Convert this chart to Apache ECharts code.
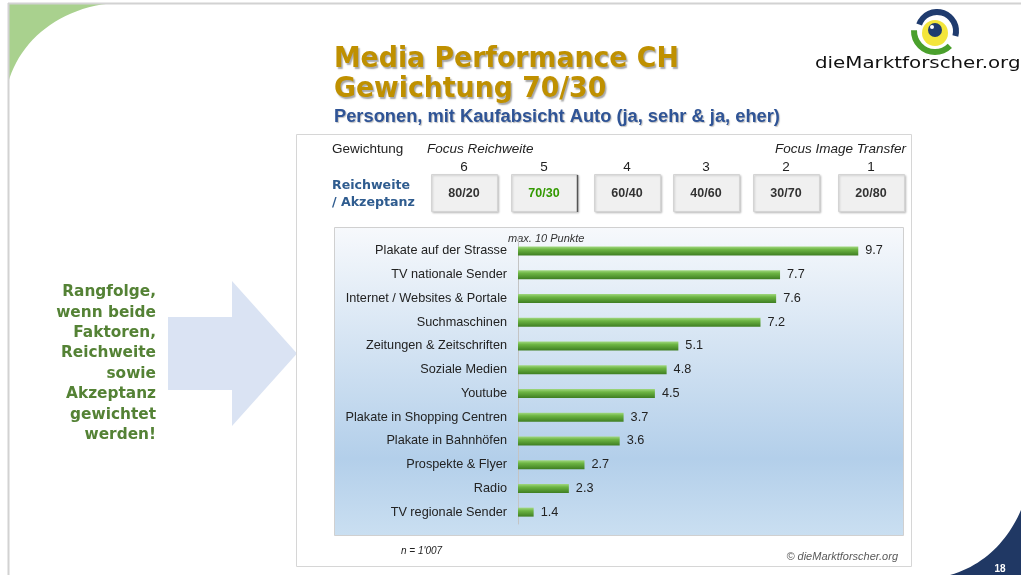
<!DOCTYPE html>
<html lang="de" style="height: 100%">
<head>
  <meta charset="utf-8">
</head>
<body style="height: 100%; margin: 0; background: #fff">
  <div id="container" style="width: 1021px; height: 575px"></div>

  <script type="text/javascript" src="https://fastly.jsdelivr.net/npm/echarts@6/dist/echarts.min.js"></script>
  <script type="text/javascript">
    // Rangfolge der Medien, Gewichtung Reichweite / Akzeptanz 70/30 (max. 10 Punkte)
    var categories = [
      'Plakate auf der Strasse',
      'TV nationale Sender',
      'Internet / Websites & Portale',
      'Suchmaschinen',
      'Zeitungen & Zeitschriften',
      'Soziale Medien',
      'Youtube',
      'Plakate in Shopping Centren',
      'Plakate in Bahnhöfen',
      'Prospekte & Flyer',
      'Radio',
      'TV regionale Sender'
    ];
    var scores = [9.7, 7.7, 7.6, 7.2, 5.1, 4.8, 4.5, 3.7, 3.6, 2.7, 2.3, 1.4];

    // Gewichtungs-Schalter im Kopf
    var weightNumbers = [6, 5, 4, 3, 2, 1];
    var weightLabels = ['80/20', '70/30', '60/40', '40/60', '30/70', '20/80'];
    var activeWeight = '70/30';

    var leftNote = ['Rangfolge,', 'wenn beide', 'Faktoren,', 'Reichweite', 'sowie', 'Akzeptanz', 'gewichtet', 'werden!'];

    var FONT = 'Liberation Sans';
    var VFONT = 'DejaVu Sans';

    function txt(x, y, text, style, extra) {
      var el = {
        type: 'text',
        x: x,
        y: y,
        silent: true,
        style: Object.assign({
          text: text,
          fontFamily: FONT,
          fontSize: 13,
          fill: '#222',
          align: 'left',
          verticalAlign: 'middle'
        }, style)
      };
      return Object.assign(el, extra || {});
    }

    // corner decoration: cubic curve sampled into polygon points
    function curvePts(p0, c1, c2, p1) {
      var pts = [];
      for (var i = 0; i <= 24; i++) {
        var t = i / 24, u = 1 - t;
        pts.push([
          u * u * u * p0[0] + 3 * u * u * t * c1[0] + 3 * u * t * t * c2[0] + t * t * t * p1[0],
          u * u * u * p0[1] + 3 * u * u * t * c1[1] + 3 * u * t * t * c2[1] + t * t * t * p1[1]
        ]);
      }
      return pts;
    }

    var graphics = [];

    // slide frame + corner shapes
    graphics.push({ type: 'rect', silent: true, shape: { x: 0, y: 0, width: 1021, height: 575 }, style: { fill: '#fff' }, z: -10 });
    graphics.push({
      type: 'polygon', silent: true, z: -8,
      shape: { points: [[8, 3]].concat(curvePts([115, 3], [60, 7], [20, 40], [8, 83])) },
      style: { fill: '#a9d18e' }
    });
    graphics.push({
      type: 'polygon', silent: true, z: -8,
      shape: { points: curvePts([1021, 510], [1008, 540], [985, 565], [950, 575]).concat([[1021, 575]]) },
      style: { fill: '#203864' }
    });
    graphics.push({ type: 'line', silent: true, shape: { x1: 8, y1: 3.5, x2: 1021, y2: 3.5 }, style: { stroke: '#d2d2d2', lineWidth: 2 }, z: -7 });
    graphics.push({ type: 'line', silent: true, shape: { x1: 8.5, y1: 3, x2: 8.5, y2: 575 }, style: { stroke: '#d2d2d2', lineWidth: 2 }, z: -7 });
    graphics.push(txt(1000, 569, '18', { fill: '#fff', fontSize: 10, fontWeight: 'bold', align: 'center' }));

    // logo
    graphics.push({ type: 'sector', silent: true, shape: { cx: 937, cy: 31, r0: 16, r: 22, startAngle: 200 * Math.PI / 180, endAngle: 375 * Math.PI / 180, clockwise: true }, style: { fill: '#1f3b6e' } });
    graphics.push({ type: 'sector', silent: true, shape: { cx: 935, cy: 31, r0: 18, r: 24, startAngle: 45 * Math.PI / 180, endAngle: 182 * Math.PI / 180, clockwise: true }, style: { fill: '#4aa02c' } });
    graphics.push({ type: 'circle', silent: true, shape: { cx: 935, cy: 33, r: 13 }, style: { fill: '#f3e53c' } });
    graphics.push({ type: 'circle', silent: true, shape: { cx: 935, cy: 30, r: 7 }, style: { fill: '#1f3b6e' } });
    graphics.push({ type: 'circle', silent: true, shape: { cx: 932, cy: 27, r: 2 }, style: { fill: '#fff' } });
    graphics.push(txt(815, 64, 'dieMarktforscher.org', { fontFamily: VFONT, fontSize: 16, fill: '#111' }, { scaleX: 1.24 }));

    // titles
    var titleStyle = {
      fontFamily: VFONT, fontSize: 28, fontWeight: 'bold', fill: '#bf9000',
      textShadowColor: 'rgba(0,0,0,0.35)', textShadowBlur: 1.5, textShadowOffsetX: 1.5, textShadowOffsetY: 1.5
    };
    graphics.push(txt(334, 60, 'Media Performance CH', titleStyle, { scaleX: 0.955 }));
    graphics.push(txt(334, 90, 'Gewichtung 70/30', titleStyle, { scaleX: 0.955 }));
    graphics.push(txt(334, 117, 'Personen, mit Kaufabsicht Auto (ja, sehr & ja, eher)', {
      fontSize: 18.3, fontWeight: 'bold', fill: '#2f5496',
      textShadowColor: 'rgba(0,0,0,0.25)', textShadowBlur: 1, textShadowOffsetX: 1, textShadowOffsetY: 1
    }));

    // left note + arrow
    leftNote.forEach(function (line, i) {
      graphics.push(txt(156, 292 + i * 20.4, line, { fontFamily: VFONT, fontSize: 16.5, fontWeight: 'bold', fill: '#548235', align: 'right' }, { scaleX: 0.93 }));
    });
    graphics.push({
      type: 'polygon', silent: true,
      shape: { points: [[168, 317], [232, 317], [232, 281], [297, 353.5], [232, 426], [232, 390], [168, 390]] },
      style: { fill: '#dae3f3' }
    });

    // content frame
    graphics.push({ type: 'rect', silent: true, shape: { x: 296.5, y: 134.5, width: 615, height: 432 }, style: { fill: '#fff', stroke: '#d6d6d6', lineWidth: 1 } });

    // header
    graphics.push(txt(332, 149, 'Gewichtung', { fontSize: 13.5 }));
    graphics.push(txt(427, 149, 'Focus Reichweite', { fontSize: 13.5, fontStyle: 'italic' }));
    graphics.push(txt(906, 149, 'Focus Image Transfer', { fontSize: 13.5, fontStyle: 'italic', align: 'right' }));
    graphics.push(txt(332, 186, 'Reichweite', { fontFamily: VFONT, fontSize: 12.6, fontWeight: 'bold', fill: '#2f5c8f' }));
    graphics.push(txt(332, 203, '/ Akzeptanz', { fontFamily: VFONT, fontSize: 12.6, fontWeight: 'bold', fill: '#2f5c8f' }));

    var btnLeft = [431, 511, 594, 673, 753, 838];
    weightLabels.forEach(function (lab, i) {
      var x = btnLeft[i];
      var cx = x + 33;
      graphics.push(txt(cx, 167, String(weightNumbers[i]), { fontSize: 13.5, align: 'center' }));
      graphics.push({
        type: 'rect', silent: true,
        shape: { x: x + 0.5, y: 174.5, width: 66, height: 37 },
        style: { fill: '#f0f0f0', stroke: '#d4d4d4', lineWidth: 1, shadowBlur: 2, shadowOffsetX: 1, shadowOffsetY: 1, shadowColor: 'rgba(0,0,0,0.18)' }
      });
      if (lab === activeWeight) {
        graphics.push({ type: 'line', silent: true, shape: { x1: x + 66.5, y1: 175, x2: x + 66.5, y2: 212 }, style: { stroke: '#555', lineWidth: 1.5 } });
      }
      graphics.push(txt(cx, 194, lab, {
        fontSize: 12.5, fontWeight: 'bold', align: 'center',
        fill: lab === activeWeight ? '#339900' : '#333'
      }));
    });

    // chart panel background
    graphics.push({
      type: 'rect', silent: true,
      shape: { x: 334.5, y: 227.5, width: 569, height: 308 },
      style: {
        stroke: '#d0d0d0', lineWidth: 1,
        fill: new echarts.graphic.LinearGradient(0, 0, 0, 1, [
          { offset: 0, color: '#f7f9fc' },
          { offset: 0.75, color: '#b3cfea' },
          { offset: 1, color: '#cadff1' }
        ])
      }
    });
    graphics.push(txt(508, 239, 'max. 10 Punkte', { fontSize: 11, fontStyle: 'italic', fill: '#333' }));

    // footer
    graphics.push(txt(401, 551, "n = 1'007", { fontSize: 10, fontStyle: 'italic', fill: '#222' }));
    graphics.push(txt(898, 557, '© dieMarktforscher.org', { fontSize: 11, fontStyle: 'italic', fill: '#595959', align: 'right' }));

    var dom = document.getElementById('container');
    var myChart = echarts.init(dom, null, { renderer: 'canvas' });

    var option = {
      animation: false,
      backgroundColor: '#fff',
      graphic: { elements: graphics },
      grid: { left: 518, right: 151, top: 239, bottom: 51, containLabel: false },
      xAxis: {
        type: 'value',
        min: 1,
        max: 10,
        show: false
      },
      yAxis: {
        type: 'category',
        inverse: true,
        data: categories,
        axisLine: { show: true, lineStyle: { color: '#c4c4c4', width: 1 } },
        axisTick: { show: false },
        axisLabel: { margin: 11, fontFamily: FONT, fontSize: 12.7, color: '#222' }
      },
      series: [{
        type: 'bar',
        data: scores,
        barWidth: 9,
        z: 5,
        itemStyle: {
          color: new echarts.graphic.LinearGradient(0, 0, 0, 1, [
            { offset: 0, color: '#a3d982' },
            { offset: 0.35, color: '#6db543' },
            { offset: 1, color: '#3f7f22' }
          ])
        },
        label: {
          show: true,
          position: 'right',
          distance: 7,
          fontFamily: FONT,
          fontSize: 12.7,
          color: '#222',
          formatter: function (p) { return p.value.toFixed(1); }
        }
      }]
    };

    myChart.setOption(option);
    window.addEventListener('resize', myChart.resize);
  </script>
</body>
</html>
